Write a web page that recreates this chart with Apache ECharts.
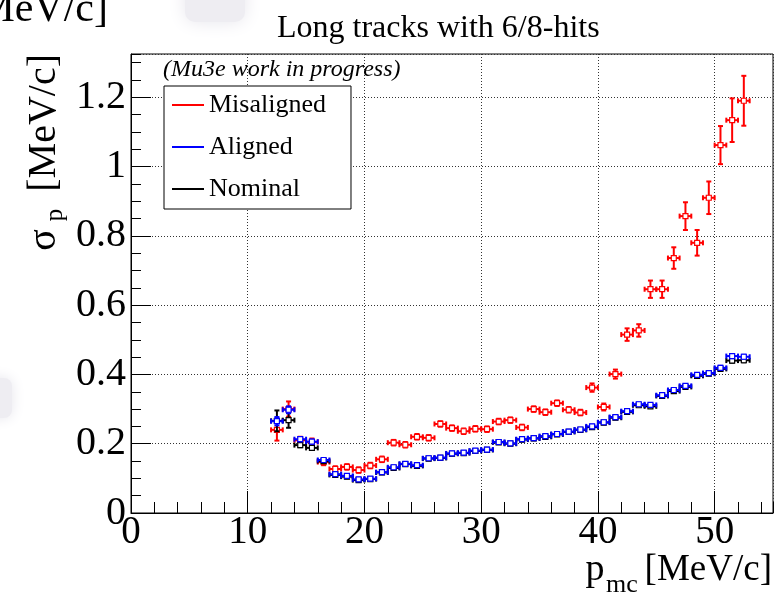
<!DOCTYPE html>
<html>
<head>
<meta charset="utf-8">
<script src="https://cdn.jsdelivr.net/npm/echarts@6/dist/echarts.min.js"></script>
<style>
html,body{margin:0;padding:0;background:#fff;}
#chart{width:778px;height:596px;}
</style>
</head>
<body>
<div id="chart"></div>
<script>
// ---- data (bin centres in MeV/c, resolution in MeV/c) ----
const xCenters = [12.5,13.5,14.5,15.5,16.5,17.5,18.5,19.5,20.5,21.5,22.5,23.5,24.5,25.5,26.5,27.5,28.5,29.5,30.5,31.5,32.5,33.5,34.5,35.5,36.5,37.5,38.5,39.5,40.5,41.5,42.5,43.5,44.5,45.5,46.5,47.5,48.5,49.5,50.5,51.5,52.5];
const binHalfWidth = 0.5;

const misaligned = [0.240,0.300,0.210,0.205,0.147,0.127,0.133,0.124,0.137,0.155,0.203,0.197,0.220,0.217,0.257,0.245,0.236,0.243,0.242,0.264,0.268,0.247,0.300,0.291,0.317,0.298,0.290,0.362,0.306,0.401,0.515,0.527,0.646,0.646,0.736,0.857,0.780,0.910,1.062,1.134,1.190];
const misalignedErr = [0.031,0.022,0.010,0.010,0.009,0.008,0.008,0.008,0.008,0.008,0.008,0.008,0.008,0.008,0.008,0.008,0.008,0.008,0.008,0.008,0.008,0.008,0.008,0.008,0.008,0.008,0.008,0.012,0.010,0.013,0.018,0.018,0.025,0.025,0.031,0.040,0.037,0.047,0.055,0.063,0.072];

const aligned = [0.265,0.298,0.213,0.206,0.153,0.112,0.107,0.097,0.099,0.118,0.132,0.142,0.138,0.158,0.160,0.172,0.174,0.180,0.183,0.205,0.201,0.213,0.216,0.222,0.228,0.235,0.241,0.250,0.262,0.277,0.294,0.314,0.312,0.340,0.355,0.367,0.399,0.404,0.419,0.453,0.451];
const alignedErr = [0.012,0.010,0.006,0.006,0.005,0.005,0.005,0.005,0.005,0.005,0.005,0.005,0.005,0.005,0.005,0.005,0.005,0.005,0.005,0.005,0.005,0.005,0.005,0.005,0.005,0.005,0.005,0.005,0.005,0.005,0.005,0.005,0.005,0.005,0.005,0.005,0.005,0.005,0.006,0.006,0.006];

const nominal = [0.266,0.268,0.196,0.188,0.150,0.110,0.105,0.095,0.098,0.117,0.130,0.141,0.136,0.157,0.159,0.171,0.173,0.179,0.182,0.204,0.200,0.212,0.215,0.220,0.227,0.234,0.240,0.248,0.261,0.275,0.292,0.311,0.308,0.338,0.352,0.364,0.396,0.402,0.416,0.440,0.441];
const nominalErr = [0.030,0.022,0.006,0.006,0.005,0.005,0.005,0.005,0.005,0.005,0.005,0.005,0.005,0.005,0.005,0.005,0.005,0.005,0.005,0.005,0.005,0.005,0.005,0.005,0.005,0.005,0.005,0.005,0.005,0.005,0.005,0.005,0.005,0.005,0.005,0.005,0.005,0.005,0.006,0.006,0.006];

const seriesNames = ['Misaligned','Aligned','Nominal'];
const seriesColors = ['#ff0000','#0000ff','#000000'];

// ---- helpers ----
const FONT = "'Liberation Serif','Times New Roman',serif";
function build(vals, errs){
  return xCenters.map((x,i)=>[x, vals[i], binHalfWidth, errs[i]]);
}
function makeRender(color){
  return function(params, api){
    const x = api.value(0), y = api.value(1), ex = api.value(2), ey = api.value(3);
    const c = api.coord([x, y]);
    const l = api.coord([x - ex, y]);
    const r = api.coord([x + ex, y]);
    const t = api.coord([x, y + ey]);
    const b = api.coord([x, y - ey]);
    const cap = 2.5, lw = 2;
    const st = {stroke: color, lineWidth: lw};
    const ch = [];
    ch.push({type:'line', shape:{x1:l[0], y1:c[1], x2:r[0], y2:c[1]}, style:st});
    ch.push({type:'line', shape:{x1:c[0], y1:t[1], x2:c[0], y2:b[1]}, style:st});
    ch.push({type:'line', shape:{x1:l[0], y1:c[1]-cap, x2:l[0], y2:c[1]+cap}, style:st});
    ch.push({type:'line', shape:{x1:r[0], y1:c[1]-cap, x2:r[0], y2:c[1]+cap}, style:st});
    ch.push({type:'line', shape:{x1:c[0]-cap, y1:t[1], x2:c[0]+cap, y2:t[1]}, style:st});
    ch.push({type:'line', shape:{x1:c[0]-cap, y1:b[1], x2:c[0]+cap, y2:b[1]}, style:st});
    ch.push({type:'rect', shape:{x:c[0]-2.5, y:c[1]-2.5, width:5, height:5}, style:{fill:'#ffffff', stroke:color, lineWidth:1.2}});
    return {type:'group', children: ch};
  };
}

const chart = echarts.init(document.getElementById('chart'), null, {renderer:'canvas'});
const gridPos = {left:131, right:5, top:54, bottom:83};

const option = {
  animation: false,
  backgroundColor: '#ffffff',
  title: {
    text: 'Long tracks with 6/8-hits',
    left: 272, top: 8,
    textStyle: {fontFamily: FONT, fontSize: 32, fontWeight: 'normal', color: '#000'}
  },
  legend: {
    orient: 'vertical',
    left: 164, top: 86,
    padding: [4, 25, 5, 8],
    backgroundColor: '#ffffff',
    borderColor: '#000', borderWidth: 1,
    itemWidth: 32, itemHeight: 2, itemGap: 12,
    textStyle: {fontFamily: FONT, fontSize: 26, color: '#000', lineHeight: 30},
    data: seriesNames.map(n => ({name: n, icon: 'path://M0,0H32V2H0Z'})),
    selectedMode: false
  },
  grid: [
    Object.assign({show: true, borderColor: '#000', borderWidth: 1, backgroundColor: 'transparent'}, gridPos),
    Object.assign({show: false}, gridPos)
  ],
  xAxis: [
    {
      gridIndex: 0, type: 'value', min: 0, max: 55, interval: 10,
      axisLine: {show: true, lineStyle: {color: '#000', width: 1}},
      axisTick: {show: true, inside: true, length: 22, lineStyle: {color: '#000', width: 1}},
      axisLabel: {showMaxLabel: false, fontFamily: FONT, fontSize: 39, color: '#000', margin: 0},
      splitLine: {show: true, lineStyle: {color: '#333', width: 1, type: [1, 2]}}
    },
    {
      gridIndex: 1, type: 'value', min: 0, max: 55, interval: 2,
      axisLine: {show: false},
      axisTick: {show: true, inside: true, length: 11, lineStyle: {color: '#000', width: 1}},
      axisLabel: {show: false}, splitLine: {show: false}
    }
  ],
  yAxis: [
    {
      gridIndex: 0, type: 'value', min: 0, max: 1.325, interval: 0.2,
      axisLine: {show: true, lineStyle: {color: '#000', width: 1}},
      axisTick: {show: true, inside: true, length: 20, lineStyle: {color: '#000', width: 1}},
      axisLabel: {showMaxLabel: false, fontFamily: FONT, fontSize: 40, color: '#000', margin: 5},
      splitLine: {show: true, lineStyle: {color: '#333', width: 1, type: [1, 2]}}
    },
    {
      gridIndex: 1, type: 'value', min: 0, max: 1.325, interval: 0.05,
      axisLine: {show: false},
      axisTick: {show: true, inside: true, length: 10, lineStyle: {color: '#000', width: 1}},
      axisLabel: {show: false}, splitLine: {show: false}
    }
  ],
  series: [
    {name: 'Misaligned', type: 'custom', xAxisIndex: 0, yAxisIndex: 0, clip: true, itemStyle: {color: seriesColors[0]}, renderItem: makeRender(seriesColors[0]), data: build(misaligned, misalignedErr), z: 3},
    {name: 'Nominal', type: 'custom', xAxisIndex: 0, yAxisIndex: 0, clip: true, itemStyle: {color: seriesColors[2]}, renderItem: makeRender(seriesColors[2]), data: build(nominal, nominalErr), z: 4},
    {name: 'Aligned', type: 'custom', xAxisIndex: 0, yAxisIndex: 0, clip: true, itemStyle: {color: seriesColors[1]}, renderItem: makeRender(seriesColors[1]), data: build(aligned, alignedErr), z: 5}
  ],
  graphic: [
    // faint slide-background fragments
    {type: 'rect', shape: {x: 185, y: -20, width: 60, height: 42, r: 10}, style: {fill: '#eeedf2', shadowBlur: 18, shadowColor: '#e6e5ec'}, z: -10, silent: true},
    {type: 'rect', shape: {x: -30, y: 378, width: 42, height: 40, r: 8}, style: {fill: '#eeedf2', shadowBlur: 14, shadowColor: '#e6e5ec'}, z: -10, silent: true},
    // cut-off text from slide
    {type: 'text', x: 108, y: 10, style: {text: '[MeV/c]', font: "42px " + FONT, fill: '#000', align: 'right', verticalAlign: 'middle'}, z: 10},
    // work in progress label
    {type: 'text', x: 163, y: 70, style: {text: '(Mu3e work in progress)', font: "italic 24px " + FONT, fill: '#000', align: 'left', verticalAlign: 'middle'}, z: 10},
    // y axis title (rotated)
    {type: 'text', x: 44, y: 54, rotation: Math.PI/2, style: {text: '[MeV/c]', font: "40px " + FONT, fill: '#000', align: 'right', verticalAlign: 'middle'}, z: 10},
    {type: 'text', x: 55, y: 215, rotation: Math.PI/2, style: {text: 'p', font: "25px " + FONT, fill: '#000', align: 'center', verticalAlign: 'middle'}, z: 10},
    {type: 'text', x: 44, y: 240, rotation: Math.PI/2, style: {text: 'σ', font: "40px " + FONT, fill: '#000', align: 'center', verticalAlign: 'middle'}, z: 10},
    // x axis title
    {type: 'text', x: 772, y: 570, style: {text: '[MeV/c]', font: "37px " + FONT, fill: '#000', align: 'right', verticalAlign: 'middle'}, z: 10},
    {type: 'text', x: 622, y: 585, style: {text: 'mc', font: "26px " + FONT, fill: '#000', align: 'center', verticalAlign: 'middle'}, z: 10},
    {type: 'text', x: 595, y: 570, style: {text: 'p', font: "38px " + FONT, fill: '#000', align: 'center', verticalAlign: 'middle'}, z: 10}
  ]
};
chart.setOption(option);
</script>
</body>
</html>
